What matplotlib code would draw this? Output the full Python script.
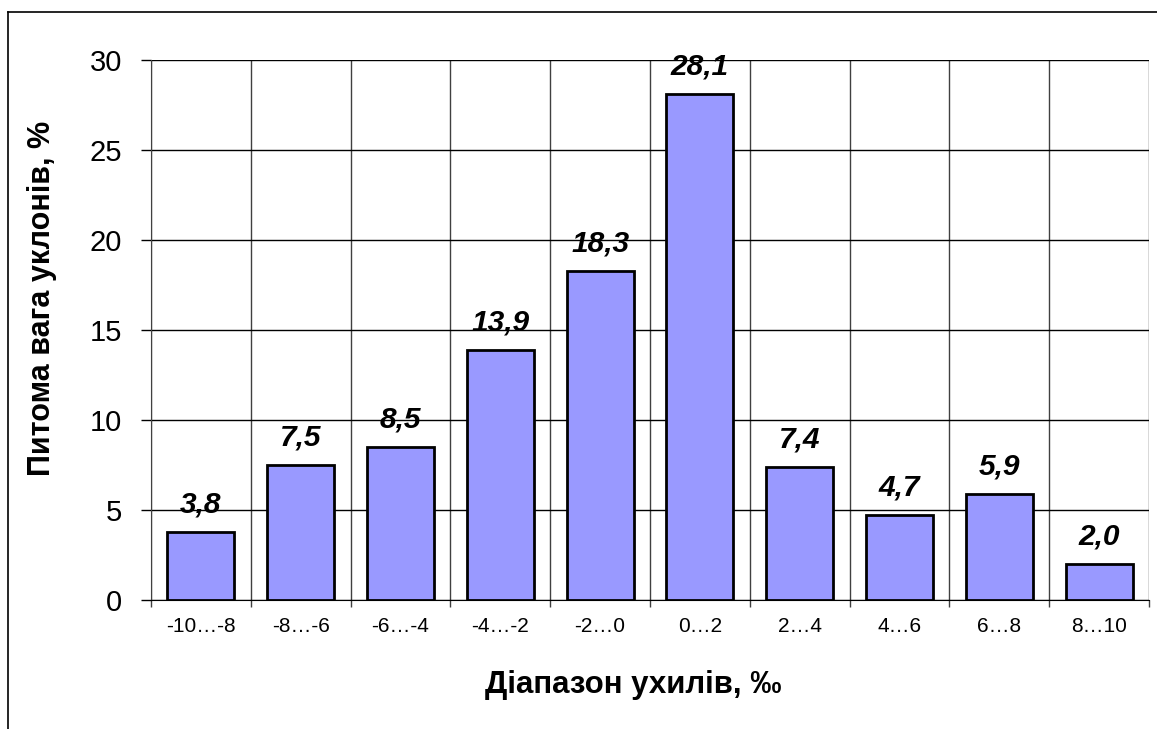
import matplotlib
matplotlib.use("Agg")
import matplotlib.pyplot as plt
from matplotlib.lines import Line2D
import numpy as np

categories = ["-10…-8", "-8…-6", "-6…-4", "-4…-2", "-2…0", "0…2", "2…4", "4…6", "6…8", "8…10"]
values = [3.8, 7.5, 8.5, 13.9, 18.3, 28.1, 7.4, 4.7, 5.9, 2.0]
value_labels = ["3,8", "7,5", "8,5", "13,9", "18,3", "28,1", "7,4", "4,7", "5,9", "2,0"]
yticks = [0, 5, 10, 15, 20, 25, 30]

plt.rcParams['font.family'] = ['Liberation Sans', 'DejaVu Sans']

W, H = 1157, 729
fig = plt.figure(figsize=(W / 100, H / 100), dpi=100)
ax = fig.add_axes([151 / W, 1 - 600 / H, (1149 - 151) / W, (600 - 60) / H])

x = np.arange(len(categories))
ax.bar(x, values, width=0.67, color="#9999FF", edgecolor="black", linewidth=2, zorder=3)

for xi, v, lab in zip(x, values, value_labels):
    ax.annotate(lab, (xi, v), xytext=(0, 14), textcoords="offset points",
                ha="center", va="baseline", fontsize=21.5, fontweight="bold",
                fontstyle="italic", zorder=4, annotation_clip=False)

ax.set_xlim(-0.5, len(categories) - 0.5)
ax.set_ylim(0, 30)
ax.set_yticks(yticks)
ax.set_yticklabels([str(t) for t in yticks], fontsize=21)
ax.set_xticks(x)
ax.set_xticklabels(categories, fontsize=15)
ax.set_xticks(np.arange(-0.5, len(categories), 1.0), minor=True)
ax.tick_params(axis="x", which="major", length=0, pad=12)
ax.tick_params(axis="x", which="minor", length=5, width=1, color="#404040", direction="out")
ax.tick_params(axis="y", which="major", length=7, width=1, direction="out", pad=14)

ax.yaxis.grid(True, color="black", linewidth=1, zorder=0)
ax.xaxis.grid(True, which="minor", color="#404040", linewidth=1, zorder=0)
ax.xaxis.grid(False, which="major")
ax.set_axisbelow(True)

for s in ["top", "right"]:
    ax.spines[s].set_visible(False)
ax.spines["left"].set_color("#404040")
ax.spines["bottom"].set_color("black")

fig.text(42 / W, 1 - 298 / H, "Питома вага уклонів, %", rotation=90, ha="center", va="center",
         fontsize=22, fontweight="bold")
fig.text(633 / W, 1 - 685 / H, "Діапазон ухилів, ‰", ha="center", va="center",
         fontsize=22.5, fontweight="bold")

# outer chart frame (left and top edges visible)
fig.add_artist(Line2D([8 / W, 8 / W], [0, 1 - 12 / H], transform=fig.transFigure, color="black", linewidth=1.2))
fig.add_artist(Line2D([8 / W, 1], [1 - 12 / H, 1 - 12 / H], transform=fig.transFigure, color="black", linewidth=1.2))

fig.savefig("out.png", dpi=100)
